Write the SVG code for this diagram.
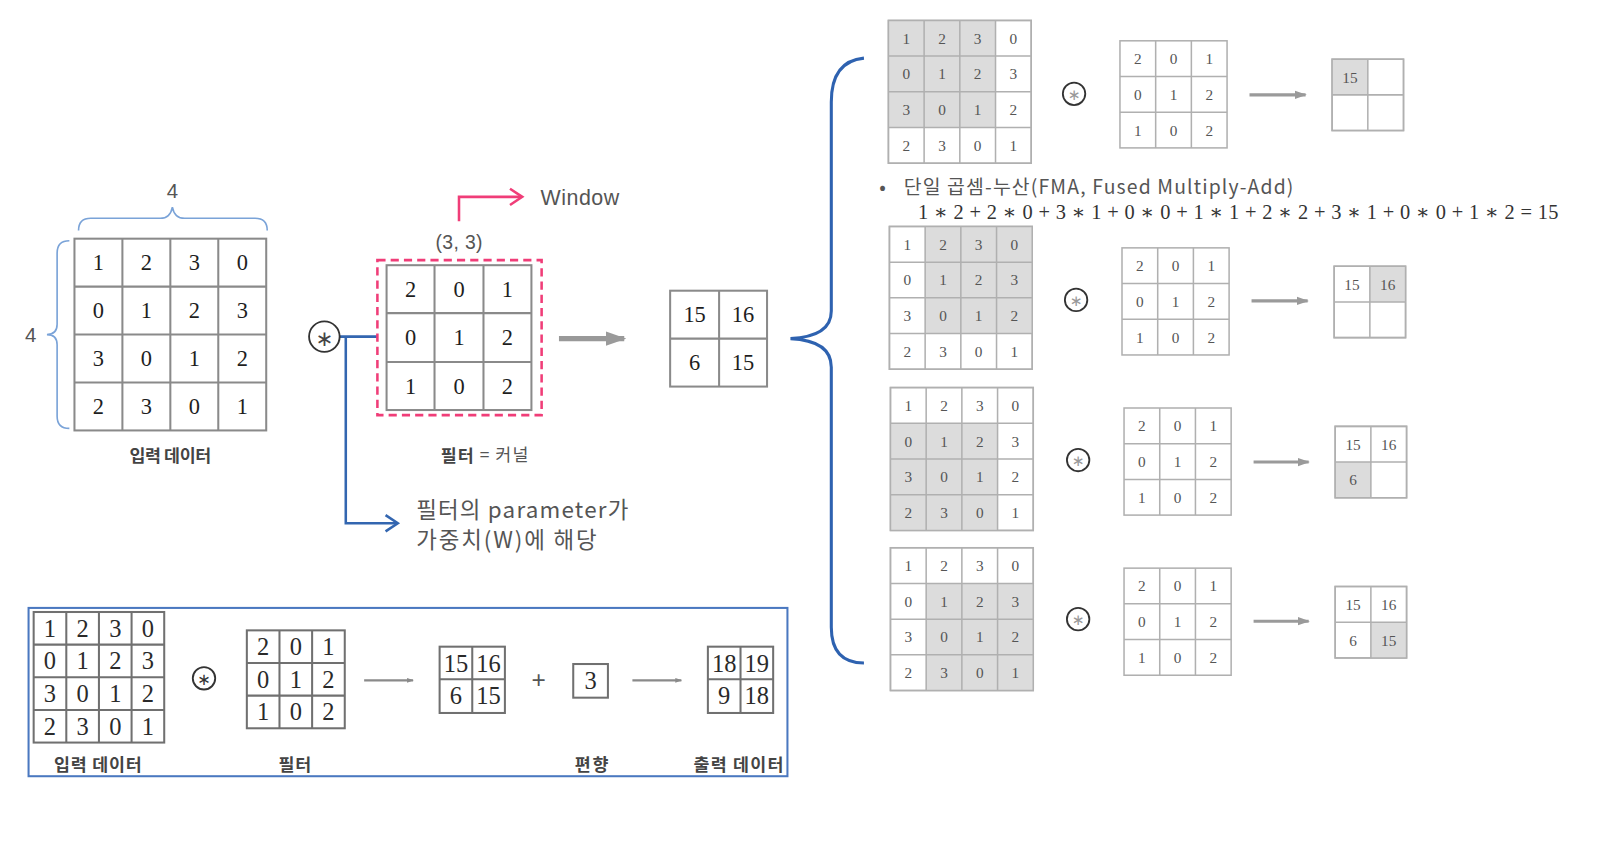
<svg xmlns="http://www.w3.org/2000/svg" width="1600" height="848" viewBox="0 0 1600 848">
<defs>
<style>
.bg{fill:#ffffff}
.gm{fill:#fff;stroke:#8a8a8a;stroke-width:2}
.gl{fill:none;stroke:#8a8a8a;stroke-width:2}
.rm{fill:#fff;stroke:#b0b0b0;stroke-width:1.5}
.rl{fill:none;stroke:#b0b0b0;stroke-width:1.5}
.bm{fill:#fff;stroke:#707070;stroke-width:2}
.bl{fill:none;stroke:#707070;stroke-width:2}
.sh{fill:#dcdcdc}
.n1{font-family:"Liberation Serif","DejaVu Serif",serif;font-size:22px;fill:#1e1e1e;text-anchor:middle;dominant-baseline:central}
.n2{font-family:"Liberation Serif","DejaVu Serif",serif;font-size:15px;fill:#555;text-anchor:middle;dominant-baseline:central}
.n3{font-family:"Liberation Serif","DejaVu Serif",serif;font-size:24px;fill:#2a2a2a;text-anchor:middle;dominant-baseline:central}
.kb{font-family:"Noto Sans CJK KR","Noto Sans",sans-serif;font-size:17px;font-weight:bold;fill:#444;text-anchor:middle;dominant-baseline:central}
.kt{font-family:"Noto Sans CJK KR","Noto Sans",sans-serif;fill:#555;dominant-baseline:central}
.lbl{font-family:"Liberation Sans","Noto Sans",sans-serif;fill:#555;dominant-baseline:central}
.circ{fill:#fff;stroke:#333;stroke-width:1.8}
.ast{font-family:"DejaVu Sans",sans-serif;text-anchor:middle;dominant-baseline:central}
.blue{fill:none;stroke:#3366b0;stroke-width:2.5}
.lb{fill:none;stroke:#7aa3d8;stroke-width:1.6}
.pink{fill:none;stroke:#f03d78;stroke-width:2.5}
.garr{fill:none;stroke:#9a9a9a;stroke-width:3;marker-end:url(#ah)}
</style>
<marker id="ah" viewBox="0 0 10 10" refX="9" refY="5" markerWidth="4" markerHeight="4" orient="auto" markerUnits="strokeWidth">
<path d="M0,1.5 L10,5 L0,8.5 Z" fill="#9a9a9a"/>
</marker>
<marker id="ah2" viewBox="0 0 10 10" refX="9" refY="5" markerWidth="3" markerHeight="3" orient="auto" markerUnits="strokeWidth">
<path d="M0,1.5 L10,5 L0,8.5 Z" fill="#8a8a8a"/>
</marker>
</defs>
<rect class="bg" x="0" y="0" width="1600" height="848"/>
<g transform="scale(1.02)">
<g id="connectors">
<path class="lb" d="M77,226 Q77,214 89,214 L157,214 Q167,214 169,203 Q171,214 181,214 L250,214 Q262,214 262,226"/>
<path class="lb" d="M68,236 Q56,236 56,248 L56,318 Q56,328 46,328 Q56,328 56,338 L56,408 Q56,420 68,420"/>
<path class="blue" d="M333,330 L370,330 M339,330 L339,513 L389,513"/>
<polyline class="blue" points="378,505 390,513 378,521"/>
<path class="pink" d="M450,217 L450,193 L511,193"/>
<polyline class="pink" points="500,185 512,193 500,201"/>
<path d="M548,332 L612,332" fill="none" stroke="#999" stroke-width="5" marker-end="url(#ah)"/>
<path fill="none" stroke="#2e62b0" stroke-width="3" d="M847,57 Q815,60 815,100 L815,305 Q815,330 775,332 Q815,334 815,360 L815,615 Q815,650 847,650"/>
<path class="garr" d="M1225,93 L1280,93"/>
<path class="garr" d="M1227,295 L1282,295"/>
<path class="garr" d="M1229,453 L1283,453"/>
<path class="garr" d="M1229,609 L1283,609"/>
<path fill="none" stroke="#8a8a8a" stroke-width="2.2" marker-end="url(#ah2)" d="M357,667 L405,667"/>
<path fill="none" stroke="#8a8a8a" stroke-width="2.2" marker-end="url(#ah2)" d="M620,667 L668,667"/>
</g>

<g id="dim-labels">
<text class="lbl" x="169" y="187" font-size="20" text-anchor="middle">4</text>
<text class="lbl" x="30" y="328" font-size="20" text-anchor="middle">4</text>
</g>

<g id="input">
<rect class="gm" x="73" y="234" width="188" height="188"/>
<path class="gl" d="M120,234V422M167,234V422M214,234V422M73,281H261M73,328H261M73,375H261"/>
<text class="n1" x="96.5" y="257.5">1</text><text class="n1" x="143.5" y="257.5">2</text><text class="n1" x="190.5" y="257.5">3</text><text class="n1" x="237.5" y="257.5">0</text>
<text class="n1" x="96.5" y="304.5">0</text><text class="n1" x="143.5" y="304.5">1</text><text class="n1" x="190.5" y="304.5">2</text><text class="n1" x="237.5" y="304.5">3</text>
<text class="n1" x="96.5" y="351.5">3</text><text class="n1" x="143.5" y="351.5">0</text><text class="n1" x="190.5" y="351.5">1</text><text class="n1" x="237.5" y="351.5">2</text>
<text class="n1" x="96.5" y="398.5">2</text><text class="n1" x="143.5" y="398.5">3</text><text class="n1" x="190.5" y="398.5">0</text><text class="n1" x="237.5" y="398.5">1</text>
<text class="kb" x="167" y="446" font-size="16" textLength="80">입력 데이터</text>
</g>

<g id="conv-op">
<circle class="circ" cx="318" cy="330" r="15"/>
<text class="ast" x="318" y="332" font-size="21" fill="#444">∗</text>
</g>

<g id="filter">
<rect x="370" y="255" width="161" height="152" fill="none" stroke="#f03d78" stroke-width="2.5" stroke-dasharray="8,5"/>
<rect class="gm" x="379" y="260" width="142" height="142"/>
<path class="gl" d="M426,260V402M474,260V402M379,307H521M379,355H521"/>
<text class="n1" x="402.5" y="284">2</text><text class="n1" x="450" y="284">0</text><text class="n1" x="497.5" y="284">1</text>
<text class="n1" x="402.5" y="331">0</text><text class="n1" x="450" y="331">1</text><text class="n1" x="497.5" y="331">2</text>
<text class="n1" x="402.5" y="379">1</text><text class="n1" x="450" y="379">0</text><text class="n1" x="497.5" y="379">2</text>
<text class="lbl" x="427" y="237" font-size="19" textLength="46">(3, 3)</text>
<text class="lbl" x="530" y="194" font-size="21" fill="#333" textLength="77">Window</text>
<text class="kt" x="432" y="445" font-size="17" textLength="86"><tspan font-weight="bold" fill="#444">필터</tspan> = 커널</text>
</g>

<g id="note">
<text class="kt" x="408" y="498" font-size="22" textLength="208">필터의 parameter가</text>
<text class="kt" x="408" y="527" font-size="22" textLength="177">가중치(W)에 해당</text>
</g>

<g id="output">
<rect class="gm" x="657" y="285" width="95" height="94"/>
<path class="gl" d="M705,285V379M657,332H752"/>
<text class="n1" x="681" y="308.5">15</text><text class="n1" x="728.5" y="308.5">16</text>
<text class="n1" x="681" y="355.5">6</text><text class="n1" x="728.5" y="355.5">15</text>
</g>

<g id="step1">
<rect class="rm" x="871" y="20" width="140" height="140"/>
<rect class="sh" x="871" y="20" width="105" height="105"/>
<path class="rl" d="M871,20h140v140h-140z M906,20V160M941,20V160M976,20V160M871,55H1011M871,90H1011M871,125H1011"/>
<text class="n2" x="888.5" y="37.5">1</text><text class="n2" x="923.5" y="37.5">2</text><text class="n2" x="958.5" y="37.5">3</text><text class="n2" x="993.5" y="37.5">0</text>
<text class="n2" x="888.5" y="72.5">0</text><text class="n2" x="923.5" y="72.5">1</text><text class="n2" x="958.5" y="72.5">2</text><text class="n2" x="993.5" y="72.5">3</text>
<text class="n2" x="888.5" y="107.5">3</text><text class="n2" x="923.5" y="107.5">0</text><text class="n2" x="958.5" y="107.5">1</text><text class="n2" x="993.5" y="107.5">2</text>
<text class="n2" x="888.5" y="142.5">2</text><text class="n2" x="923.5" y="142.5">3</text><text class="n2" x="958.5" y="142.5">0</text><text class="n2" x="993.5" y="142.5">1</text>
<circle class="circ" cx="1053" cy="92" r="11" stroke-width="1.5"/>
<text class="ast" x="1053" y="93" font-size="15" fill="#999">∗</text>
<rect class="rm" x="1098" y="40" width="105" height="105"/>
<path class="rl" d="M1133,40V145M1168,40V145M1098,75H1203M1098,110H1203"/>
<text class="n2" x="1115.5" y="57.5">2</text><text class="n2" x="1150.5" y="57.5">0</text><text class="n2" x="1185.5" y="57.5">1</text>
<text class="n2" x="1115.5" y="92.5">0</text><text class="n2" x="1150.5" y="92.5">1</text><text class="n2" x="1185.5" y="92.5">2</text>
<text class="n2" x="1115.5" y="127.5">1</text><text class="n2" x="1150.5" y="127.5">0</text><text class="n2" x="1185.5" y="127.5">2</text>
<rect class="rm" x="1306" y="58" width="70" height="70"/>
<rect class="sh" x="1306" y="58" width="35" height="35"/>
<path class="rl" d="M1306,58h70v70h-70z M1341,58V128M1306,93H1376"/>
<text class="n2" x="1323.5" y="75.5">15</text>
</g>

<g id="fma-note">
<text class="kt" x="862" y="182" font-size="19" fill="#444">•</text>
<text class="kt" x="886" y="182" font-size="19" fill="#444" textLength="382">단일 곱셈-누산(FMA, Fused Multiply-Add)</text>
<text x="900" y="208" font-family="Liberation Serif, DejaVu Serif, serif" font-size="20" fill="#333" dominant-baseline="central" textLength="628">1 ∗ 2 + 2 ∗ 0 + 3 ∗ 1 + 0 ∗ 0 + 1 ∗ 1 + 2 ∗ 2 + 3 ∗ 1 + 0 ∗ 0 + 1 ∗ 2 = 15</text>
</g>

<g id="step2">
<rect class="rm" x="872" y="222" width="140" height="140"/>
<rect class="sh" x="907" y="222" width="105" height="105"/>
<path class="rl" d="M872,222h140v140h-140z M907,222V362M942,222V362M977,222V362M872,257H1012M872,292H1012M872,327H1012"/>
<text class="n2" x="889.5" y="239.5">1</text><text class="n2" x="924.5" y="239.5">2</text><text class="n2" x="959.5" y="239.5">3</text><text class="n2" x="994.5" y="239.5">0</text>
<text class="n2" x="889.5" y="274.5">0</text><text class="n2" x="924.5" y="274.5">1</text><text class="n2" x="959.5" y="274.5">2</text><text class="n2" x="994.5" y="274.5">3</text>
<text class="n2" x="889.5" y="309.5">3</text><text class="n2" x="924.5" y="309.5">0</text><text class="n2" x="959.5" y="309.5">1</text><text class="n2" x="994.5" y="309.5">2</text>
<text class="n2" x="889.5" y="344.5">2</text><text class="n2" x="924.5" y="344.5">3</text><text class="n2" x="959.5" y="344.5">0</text><text class="n2" x="994.5" y="344.5">1</text>
<circle class="circ" cx="1055" cy="294" r="11" stroke-width="1.5"/>
<text class="ast" x="1055" y="295" font-size="15" fill="#999">∗</text>
<rect class="rm" x="1100" y="243" width="105" height="105"/>
<path class="rl" d="M1135,243V348M1170,243V348M1100,278H1205M1100,313H1205"/>
<text class="n2" x="1117.5" y="260.5">2</text><text class="n2" x="1152.5" y="260.5">0</text><text class="n2" x="1187.5" y="260.5">1</text>
<text class="n2" x="1117.5" y="295.5">0</text><text class="n2" x="1152.5" y="295.5">1</text><text class="n2" x="1187.5" y="295.5">2</text>
<text class="n2" x="1117.5" y="330.5">1</text><text class="n2" x="1152.5" y="330.5">0</text><text class="n2" x="1187.5" y="330.5">2</text>
<rect class="rm" x="1308" y="261" width="70" height="70"/>
<rect class="sh" x="1343" y="261" width="35" height="35"/>
<path class="rl" d="M1308,261h70v70h-70z M1343,261V331M1308,296H1378"/>
<text class="n2" x="1325.5" y="278.5">15</text><text class="n2" x="1360.5" y="278.5">16</text>
</g>

<g id="step3">
<rect class="rm" x="873" y="380" width="140" height="140"/>
<rect class="sh" x="873" y="415" width="105" height="105"/>
<path class="rl" d="M873,380h140v140h-140z M908,380V520M943,380V520M978,380V520M873,415H1013M873,450H1013M873,485H1013"/>
<text class="n2" x="890.5" y="397.5">1</text><text class="n2" x="925.5" y="397.5">2</text><text class="n2" x="960.5" y="397.5">3</text><text class="n2" x="995.5" y="397.5">0</text>
<text class="n2" x="890.5" y="432.5">0</text><text class="n2" x="925.5" y="432.5">1</text><text class="n2" x="960.5" y="432.5">2</text><text class="n2" x="995.5" y="432.5">3</text>
<text class="n2" x="890.5" y="467.5">3</text><text class="n2" x="925.5" y="467.5">0</text><text class="n2" x="960.5" y="467.5">1</text><text class="n2" x="995.5" y="467.5">2</text>
<text class="n2" x="890.5" y="502.5">2</text><text class="n2" x="925.5" y="502.5">3</text><text class="n2" x="960.5" y="502.5">0</text><text class="n2" x="995.5" y="502.5">1</text>
<circle class="circ" cx="1057" cy="451" r="11" stroke-width="1.5"/>
<text class="ast" x="1057" y="452" font-size="15" fill="#999">∗</text>
<rect class="rm" x="1102" y="400" width="105" height="105"/>
<path class="rl" d="M1137,400V505M1172,400V505M1102,435H1207M1102,470H1207"/>
<text class="n2" x="1119.5" y="417.5">2</text><text class="n2" x="1154.5" y="417.5">0</text><text class="n2" x="1189.5" y="417.5">1</text>
<text class="n2" x="1119.5" y="452.5">0</text><text class="n2" x="1154.5" y="452.5">1</text><text class="n2" x="1189.5" y="452.5">2</text>
<text class="n2" x="1119.5" y="487.5">1</text><text class="n2" x="1154.5" y="487.5">0</text><text class="n2" x="1189.5" y="487.5">2</text>
<rect class="rm" x="1309" y="418" width="70" height="70"/>
<rect class="sh" x="1309" y="453" width="35" height="35"/>
<path class="rl" d="M1309,418h70v70h-70z M1344,418V488M1309,453H1379"/>
<text class="n2" x="1326.5" y="435.5">15</text><text class="n2" x="1361.5" y="435.5">16</text>
<text class="n2" x="1326.5" y="470.5">6</text>
</g>

<g id="step4">
<rect class="rm" x="873" y="537" width="140" height="140"/>
<rect class="sh" x="908" y="572" width="105" height="105"/>
<path class="rl" d="M873,537h140v140h-140z M908,537V677M943,537V677M978,537V677M873,572H1013M873,607H1013M873,642H1013"/>
<text class="n2" x="890.5" y="554.5">1</text><text class="n2" x="925.5" y="554.5">2</text><text class="n2" x="960.5" y="554.5">3</text><text class="n2" x="995.5" y="554.5">0</text>
<text class="n2" x="890.5" y="589.5">0</text><text class="n2" x="925.5" y="589.5">1</text><text class="n2" x="960.5" y="589.5">2</text><text class="n2" x="995.5" y="589.5">3</text>
<text class="n2" x="890.5" y="624.5">3</text><text class="n2" x="925.5" y="624.5">0</text><text class="n2" x="960.5" y="624.5">1</text><text class="n2" x="995.5" y="624.5">2</text>
<text class="n2" x="890.5" y="659.5">2</text><text class="n2" x="925.5" y="659.5">3</text><text class="n2" x="960.5" y="659.5">0</text><text class="n2" x="995.5" y="659.5">1</text>
<circle class="circ" cx="1057" cy="607" r="11" stroke-width="1.5"/>
<text class="ast" x="1057" y="608" font-size="15" fill="#999">∗</text>
<rect class="rm" x="1102" y="557" width="105" height="105"/>
<path class="rl" d="M1137,557V662M1172,557V662M1102,592H1207M1102,627H1207"/>
<text class="n2" x="1119.5" y="574.5">2</text><text class="n2" x="1154.5" y="574.5">0</text><text class="n2" x="1189.5" y="574.5">1</text>
<text class="n2" x="1119.5" y="609.5">0</text><text class="n2" x="1154.5" y="609.5">1</text><text class="n2" x="1189.5" y="609.5">2</text>
<text class="n2" x="1119.5" y="644.5">1</text><text class="n2" x="1154.5" y="644.5">0</text><text class="n2" x="1189.5" y="644.5">2</text>
<rect class="rm" x="1309" y="575" width="70" height="70"/>
<rect class="sh" x="1344" y="610" width="35" height="35"/>
<path class="rl" d="M1309,575h70v70h-70z M1344,575V645M1309,610H1379"/>
<text class="n2" x="1326.5" y="592.5">15</text><text class="n2" x="1361.5" y="592.5">16</text>
<text class="n2" x="1326.5" y="627.5">6</text><text class="n2" x="1361.5" y="627.5">15</text>
</g>

<g id="summary">
<rect x="28" y="596" width="744" height="165" fill="none" stroke="#4a78c0" stroke-width="2"/>
<rect class="bm" x="33" y="600" width="128" height="128"/>
<path class="bl" d="M65,600V728M97,600V728M129,600V728M33,632H161M33,664H161M33,696H161"/>
<text class="n3" x="49" y="616">1</text><text class="n3" x="81" y="616">2</text><text class="n3" x="113" y="616">3</text><text class="n3" x="145" y="616">0</text>
<text class="n3" x="49" y="648">0</text><text class="n3" x="81" y="648">1</text><text class="n3" x="113" y="648">2</text><text class="n3" x="145" y="648">3</text>
<text class="n3" x="49" y="680">3</text><text class="n3" x="81" y="680">0</text><text class="n3" x="113" y="680">1</text><text class="n3" x="145" y="680">2</text>
<text class="n3" x="49" y="712">2</text><text class="n3" x="81" y="712">3</text><text class="n3" x="113" y="712">0</text><text class="n3" x="145" y="712">1</text>
<circle class="circ" cx="200" cy="665" r="11" stroke-width="1.5"/>
<text class="ast" x="200" y="666" font-size="16" fill="#333">∗</text>
<rect class="bm" x="242" y="618" width="96" height="96"/>
<path class="bl" d="M274,618V714M306,618V714M242,650H338M242,682H338"/>
<text class="n3" x="258" y="634">2</text><text class="n3" x="290" y="634">0</text><text class="n3" x="322" y="634">1</text>
<text class="n3" x="258" y="666">0</text><text class="n3" x="290" y="666">1</text><text class="n3" x="322" y="666">2</text>
<text class="n3" x="258" y="698">1</text><text class="n3" x="290" y="698">0</text><text class="n3" x="322" y="698">2</text>
<rect class="bm" x="431" y="634" width="64" height="65" stroke="#999"/>
<path class="bl" d="M463,634V699M431,666H495" stroke="#999"/>
<text class="n3" x="447" y="650">15</text><text class="n3" x="479" y="650">16</text>
<text class="n3" x="447" y="682">6</text><text class="n3" x="479" y="682">15</text>
<text class="lbl" x="528" y="666" font-size="24" text-anchor="middle" fill="#333">+</text>
<rect class="bm" x="562" y="651" width="34" height="33" stroke="#999"/>
<text class="n3" x="579" y="667">3</text>
<rect class="bm" x="694" y="634" width="64" height="65" stroke="#999"/>
<path class="bl" d="M726,634V699M694,666H758" stroke="#999"/>
<text class="n3" x="710" y="650">18</text><text class="n3" x="742" y="650">19</text>
<text class="n3" x="710" y="682">9</text><text class="n3" x="742" y="682">18</text>
<text class="kb" x="96" y="749" textLength="86">입력 데이터</text>
<text class="kb" x="289" y="749" textLength="32">필터</text>
<text class="kb" x="580" y="749" textLength="33">편향</text>
<text class="kb" x="724" y="749" textLength="88">출력 데이터</text>
</g>
</g>
</svg>
